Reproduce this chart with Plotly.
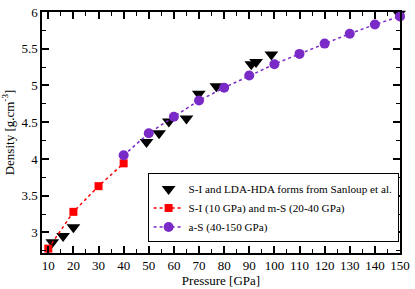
import plotly.graph_objects as go

# Sanloup et al. (S-I and LDA-HDA)
sanloup_p = [11.6, 15.9, 20.0, 49.1, 54.1, 58.0, 65.0, 69.9, 76.9, 90.8, 92.7, 98.8, 149.6]
sanloup_d = [2.865, 2.95, 3.07, 4.23, 4.35, 4.51, 4.55, 4.886, 4.99, 5.29, 5.32, 5.42, 5.975]

# S-I (10 GPa) and m-S (20-40 GPa)
si_p = [10, 20, 30, 40]
si_d = [2.78, 3.28, 3.63, 3.94]

# a-S (40-150 GPa)
as_p = [40, 50, 60, 70, 80, 90, 100, 110, 120, 130, 140, 150]
as_d = [4.05, 4.35, 4.575, 4.795, 4.97, 5.135, 5.29, 5.43, 5.57, 5.705, 5.83, 5.94]

x_ticks = [10, 20, 30, 40, 50, 60, 70, 80, 90, 100, 110, 120, 130, 140, 150]
y_ticks = [3, 3.5, 4, 4.5, 5, 5.5, 6]

FONT = "Liberation Serif"
purple = "#7a2ac6"

fig = go.Figure()
fig.add_trace(go.Scatter(
    x=sanloup_p, y=sanloup_d, mode="markers",
    name="S-I and LDA-HDA forms from Sanloup et al.",
    marker=dict(symbol="triangle-down", size=12, color="black"),
    cliponaxis=False,
))
fig.add_trace(go.Scatter(
    x=si_p, y=si_d, mode="lines+markers",
    name="S-I (10 GPa) and m-S (20-40 GPa)",
    line=dict(color="red", dash="dot", width=1.5),
    marker=dict(symbol="square", size=8, color="red"),
    cliponaxis=False,
))
fig.add_trace(go.Scatter(
    x=as_p, y=as_d, mode="lines+markers",
    name="a-S (40-150 GPa)",
    line=dict(color=purple, dash="dot", width=1.5),
    marker=dict(symbol="circle", size=10, color=purple),
    cliponaxis=False,
))

axis_common = dict(
    showgrid=False, zeroline=False, showline=True, linecolor="black", linewidth=1.5,
    mirror="allticks", ticks="inside", ticklen=7, tickwidth=1.5, tickcolor="black",
    tickfont=dict(family=FONT, size=13, color="black"),
    ticklabeloverflow="allow",
)

fig.update_xaxes(
    range=[7.5, 150], tickvals=x_ticks, ticktext=[str(v) for v in x_ticks],
    title=dict(text="Pressure [GPa]", font=dict(family=FONT, size=13, color="black"), standoff=2),
    minor=dict(ticks="inside", ticklen=4, tickwidth=1, tickcolor="black", dtick=5, tick0=0),
    **axis_common,
)
fig.update_yaxes(
    range=[2.72, 6.0], tickvals=y_ticks, ticktext=["3", "3.5", "4", "4.5", "5", "5.5", "6"],
    title=dict(text="Density [g.cm<sup>-3</sup>]", font=dict(family=FONT, size=13, color="black"), standoff=4),
    minor=dict(ticks="inside", ticklen=4, tickwidth=1, tickcolor="black", dtick=0.25, tick0=0),
    **axis_common,
)

fig.update_layout(
    width=415, height=289,
    margin=dict(l=42, r=9, t=5, b=31),
    plot_bgcolor="white", paper_bgcolor="white",
    font=dict(family=FONT, size=11, color="black"),
    legend=dict(
        x=0.295, y=0.33, xanchor="left", yanchor="top",
        bgcolor="white", bordercolor="black", borderwidth=1,
        font=dict(family=FONT, size=11.2, color="black"),
        tracegroupgap=0, itemsizing="trace", traceorder="normal",
    ),
    showlegend=True,
)

fig.write_html(
    "out.html",
    config={"displayModeBar": False},
    post_script="document.body.style.margin='0';document.body.style.overflow='hidden';",
)
